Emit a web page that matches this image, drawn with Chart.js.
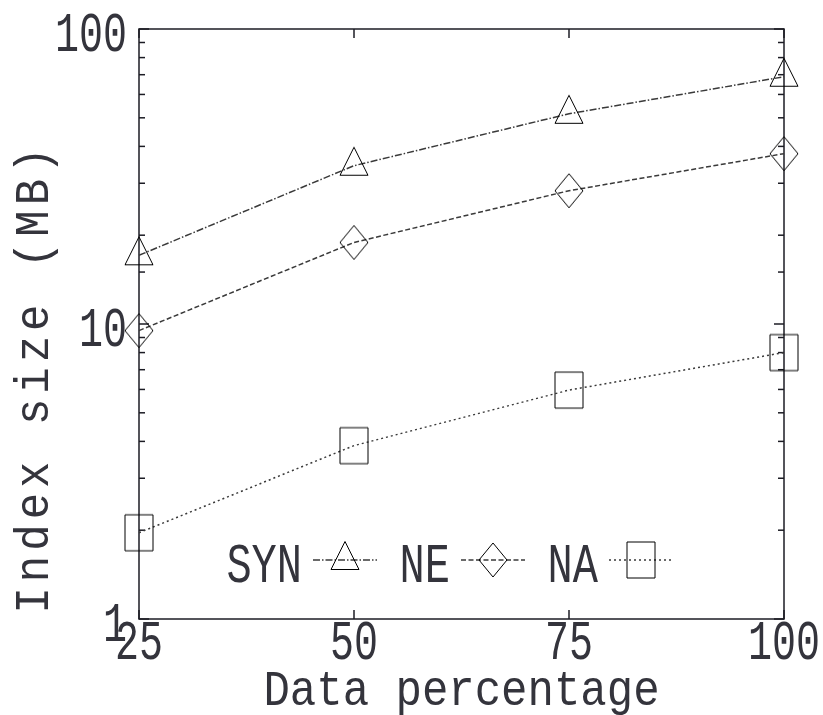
<!DOCTYPE html>
<html>
<head>
<meta charset="utf-8">
<script src="https://cdn.jsdelivr.net/npm/chart.js@4/dist/chart.umd.min.js"></script>
<style>
  body { margin: 0; background: #fff; }
  #wrap { width: 823px; height: 715px; }
</style>
</head>
<body>
<div id="wrap"><canvas id="sizeChart"></canvas></div>
<script>
const percentages = [25, 50, 75, 100];
const synSize = [17.1, 34.4, 51.6, 68.9];
const neSize = [9.5, 18.9, 28.3, 37.8];
const naSize = [1.96, 3.87, 5.97, 8.0];
const xTicks = [25, 50, 75, 100];
const yLabels = [1, 10, 100];
const seriesNames = ["SYN", "NE", "NA"];
const xTitle = "Data percentage";
const yTitle = "Index size (MB)";

const FONT = "'Liberation Mono', 'Courier New', monospace";
const INK = "#1c1c24";
const TEXT = "#34343c";
const LINE = "#3a3a3a";

// open markers drawn once into small canvases
function makeMarker(kind) {
    const c = document.createElement("canvas");
    const g = c.getContext("2d");
    g.strokeStyle = INK;
    g.lineWidth = 1.8;
    g.beginPath();
    if (kind === "triangle") {
        c.width = 32; c.height = 40;
        g.moveTo(16, 1.5); g.lineTo(30, 29.5); g.lineTo(2, 29.5); g.closePath();
    } else if (kind === "diamond") {
        c.width = 32; c.height = 38;
        g.moveTo(16, 2); g.lineTo(30, 19); g.lineTo(16, 36); g.lineTo(2, 19); g.closePath();
    } else {
        c.width = 32; c.height = 40;
        g.rect(2, 2, 28, 36);
    }
    g.stroke();
    return c;
}

function stretchedText(ctx, text, x, y, size, sy, align, angle, spacing) {
    ctx.save();
    ctx.font = size + "px " + FONT;
    ctx.fillStyle = TEXT;
    ctx.textAlign = align;
    ctx.textBaseline = "alphabetic";
    if (spacing) ctx.letterSpacing = spacing + "px";
    ctx.translate(x, y);
    if (angle) ctx.rotate(angle);
    ctx.scale(1, sy);
    const asc = ctx.measureText(text).actualBoundingBoxAscent;
    ctx.fillText(text, 0, asc / 2);
    ctx.restore();
}

function seg(ctx, x1, y1, x2, y2) {
    ctx.beginPath();
    ctx.moveTo(x1, y1);
    ctx.lineTo(x2, y2);
    ctx.stroke();
}

const axesPlugin = {
    id: "gnuAxes",
    beforeDatasetsDraw(chart) {
        const ctx = chart.ctx;
        const a = chart.chartArea;
        const xs = chart.scales.x, ys = chart.scales.y;
        ctx.save();
        ctx.strokeStyle = INK;
        ctx.lineWidth = 1.5;
        ctx.strokeRect(a.left, a.top, a.right - a.left, a.bottom - a.top);

        ys.ticks.forEach(t => {
            const py = ys.getPixelForValue(t.value);
            const major = yLabels.includes(t.value);
            const len = major ? 10 : 6;
            seg(ctx, a.left, py, a.left + len, py);
            seg(ctx, a.right, py, a.right - len, py);
            if (major) stretchedText(ctx, String(t.value), a.left - 12, py + 3, 40, 1.4, "right");
        });

        xs.ticks.forEach(t => {
            const px = xs.getPixelForValue(t.value);
            seg(ctx, px, a.bottom, px, a.bottom - 9);
            seg(ctx, px, a.top, px, a.top + 9);
            stretchedText(ctx, String(t.value), px, a.bottom + 21, 40, 1.4, "center");
        });

        stretchedText(ctx, xTitle, (a.left + a.right) / 2, 689, 44, 1.12, "center");
        stretchedText(ctx, yTitle, 31, 378, 44, 1.08, "center", -Math.PI / 2, 5);
        ctx.restore();
    },
    afterDatasetsDraw(chart) {
        const ctx = chart.ctx;
        const rightEdges = [302, 450, 598];
        chart.data.datasets.forEach((ds, i) => {
            const r = rightEdges[i];
            stretchedText(ctx, ds.label, r, 563, 42, 1.33, "right");
            ctx.save();
            ctx.strokeStyle = ds.borderColor;
            ctx.lineWidth = ds.borderWidth;
            ctx.setLineDash(ds.borderDash);
            seg(ctx, r + 11, 560, r + 75, 560);
            ctx.restore();
            const m = ds.pointStyle;
            ctx.drawImage(m, r + 43 - m.width / 2, 560 - m.height / 2);
        });
    }
};

function points(values) {
    return percentages.map((p, i) => ({ x: p, y: values[i] }));
}

const markers = [makeMarker("triangle"), makeMarker("diamond"), makeMarker("square")];
const dashes = [[7, 2, 1.5, 2], [5, 2.5], [2, 3]];
const series = [synSize, neSize, naSize];

new Chart(document.getElementById("sizeChart"), {
    type: "line",
    data: {
        datasets: series.map((vals, i) => ({
            label: seriesNames[i],
            data: points(vals),
            borderColor: LINE,
            borderWidth: 1.5,
            borderDash: dashes[i],
            pointStyle: markers[i],
            pointRadius: 14,
            tension: 0,
            fill: false,
            clip: false
        }))
    },
    options: {
        responsive: true,
        maintainAspectRatio: false,
        animation: false,
        events: [],
        layout: { padding: { left: 139, top: 29, right: 39, bottom: 96 } },
        plugins: { legend: { display: false }, tooltip: { enabled: false } },
        scales: {
            x: {
                type: "linear",
                min: 25,
                max: 100,
                afterBuildTicks: s => { s.ticks = xTicks.map(v => ({ value: v })); },
                afterFit: s => { s.height = 0; },
                ticks: { display: false },
                grid: { display: false, drawTicks: false },
                border: { display: false }
            },
            y: {
                type: "logarithmic",
                min: 1,
                max: 100,
                afterFit: s => { s.width = 0; },
                ticks: { display: false },
                grid: { display: false, drawTicks: false },
                border: { display: false }
            }
        }
    },
    plugins: [axesPlugin]
});
</script>
</body>
</html>
